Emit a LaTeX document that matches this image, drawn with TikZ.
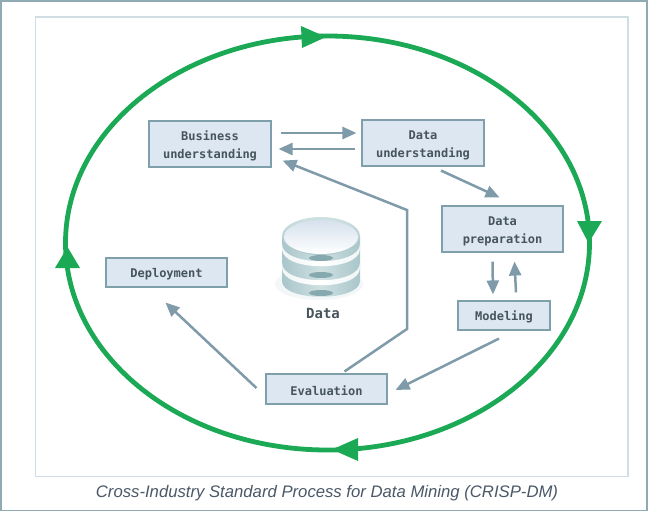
\documentclass[tikz,border=0pt]{standalone}
\usepackage{fontspec}
\setmainfont{Liberation Sans}
\newfontfamily\boxfont{DejaVu Sans Mono}
\usetikzlibrary{arrows.meta,calc,shapes.geometric}
\definecolor{ringgreen}{HTML}{1BA955}
\definecolor{flowgray}{HTML}{7F9BAA}
\definecolor{boxfill}{HTML}{DDE7F2}
\definecolor{boxline}{HTML}{7F9FAB}
\definecolor{boxtext}{HTML}{46555C}
\definecolor{framein}{HTML}{CFDEE2}
\definecolor{frameout}{HTML}{8FAAB2}
\definecolor{captext}{HTML}{4A5867}
\definecolor{dbdark}{HTML}{A9C6CA}
\definecolor{dbmid}{HTML}{CFE0E2}
\definecolor{dbspot}{HTML}{86A8AF}
\definecolor{dblight}{HTML}{F0F5F6}
\newcommand{\pushdown}{\rule{0pt}{13pt}}
\tikzset{
  stepbox/.style={draw=boxline,fill=boxfill,line width=1.1pt,minimum width=#1,inner sep=0pt,align=center,
    font=\boxfont\bfseries\fontsize{12}{18.5}\selectfont,text=boxtext},
  flow/.style={draw=flowgray,line width=2.5pt,-{Triangle[length=14pt,width=12pt]}},
  ringtip/.style={fill=ringgreen,draw=none},
}
\begin{document}
\begin{tikzpicture}[x=1pt,y=-1pt]
\useasboundingbox (0,0) rectangle (648,512);
\fill[white] (0,0) rectangle (648,512);
\draw[frameout,line width=1.6pt] (0.8,511) -- (0.8,0.8) -- (647.2,0.8) -- (647.2,511);
\draw[frameout,line width=1pt] (0.8,510.5) -- (647.2,510.5);
\draw[framein,line width=1.4pt] (35.5,17) rectangle (628,476.5);
% ring
\node[name=ring,draw=ringgreen,line width=4.8pt,ellipse,minimum width=524pt,minimum height=414pt,inner sep=0pt,fill=none] at (327.5,243) {};
\fill[ringtip] (326,37) -- (301,26) -- (302,48) -- cycle;
\fill[ringtip] (588.5,243) -- (577,221) -- (602,221) -- cycle;
\fill[ringtip] (332,449.5) -- (358,438) -- (358,461) -- cycle;
\fill[ringtip] (67.5,247) -- (55,268) -- (80,268) -- cycle;
% boxes
\node[stepbox=122pt,minimum height=46pt] (biz) at (210,144) {\pushdown Business\\understanding};
\node[stepbox=122pt,minimum height=46pt] (du) at (423,143) {\pushdown Data\\understanding};
\node[stepbox=121pt,minimum height=46pt] (dp) at (502.5,229) {\pushdown Data\\preparation};
\node[stepbox=92pt,minimum height=29pt] (mod) at (504,315.5) {\rule{0pt}{12.5pt}Modeling};
\node[stepbox=121pt,minimum height=30pt] (ev) at (326.5,389) {\rule{0pt}{12.5pt}Evaluation};
\node[stepbox=121pt,minimum height=29pt] (dep) at (166.5,272.5) {\rule{0pt}{12.5pt}Deployment};
% database
\begin{scope}
  \fill[dblight,opacity=.8] (319,284) ellipse [x radius=44,y radius=16];
  \shade[left color=dbdark,right color=dbdark,middle color=dbmid]
    (282,236) -- (282,281) .. controls (282,302) and (360,302) .. (360,281) -- (360,236) -- cycle;
  \foreach \yy in {258,275,293}{
    \fill[dbspot] (321,\yy) ellipse [x radius=12,y radius=3];
  }
  \foreach \yy in {244,263}{
    \shade[left color=dblight,right color=dblight,middle color=white]
      (282,\yy) .. controls (282,\yy+23) and (360,\yy+23) .. (360,\yy)
      -- (360,\yy+5) .. controls (360,\yy+28) and (282,\yy+28) .. (282,\yy+5) -- cycle;
  }
  \shade[top color=dbmid,bottom color=dbdark] (321,236) ellipse [x radius=39,y radius=19];
  \shade[top color=boxfill!92!boxline,bottom color=white] (321,237) ellipse [x radius=37,y radius=17];
\end{scope}
\node[font=\boxfont\bfseries\fontsize{14}{16}\selectfont,text=boxtext,inner sep=0pt] (datalabel) at (323,313) {Data};
% connectors
\draw[flow] ([shift={(9,-11)}]biz.east) -- ([shift={(-5,-10)}]du.west);
\draw[flow] ([shift={(-6,6)}]du.west) -- ([shift={(7,5)}]biz.east);
\draw[flow] ([shift={(18,4)}]du.south) -- ([shift={(-3,-8)}]dp.north);
\draw[flow] ([shift={(-10,9)}]dp.south) -- ([shift={(-11,-6)}]mod.north);
\draw[flow] ([shift={(12,-8)}]mod.north) -- ([shift={(12,9)}]dp.south);
\draw[flow] ([shift={(-5,8)}]mod.south) -- ([shift={(8,1)}]ev.east);
\draw[flow] ([shift={(-9,-1)}]ev.west) -- ([shift={(-1,15)}]dep.south);
\draw[flow] ([shift={(18,-2)}]ev.north) -- (407,329) -- (407,210) -- ([shift={(11,-7)}]biz.south east);
% caption
\node[font=\itshape\fontsize{16.7}{18}\selectfont,text=captext,inner sep=0pt] (cap) at (327,493) {Cross-Industry Standard Process for Data Mining (CRISP-DM)};
\end{tikzpicture}
\end{document}
